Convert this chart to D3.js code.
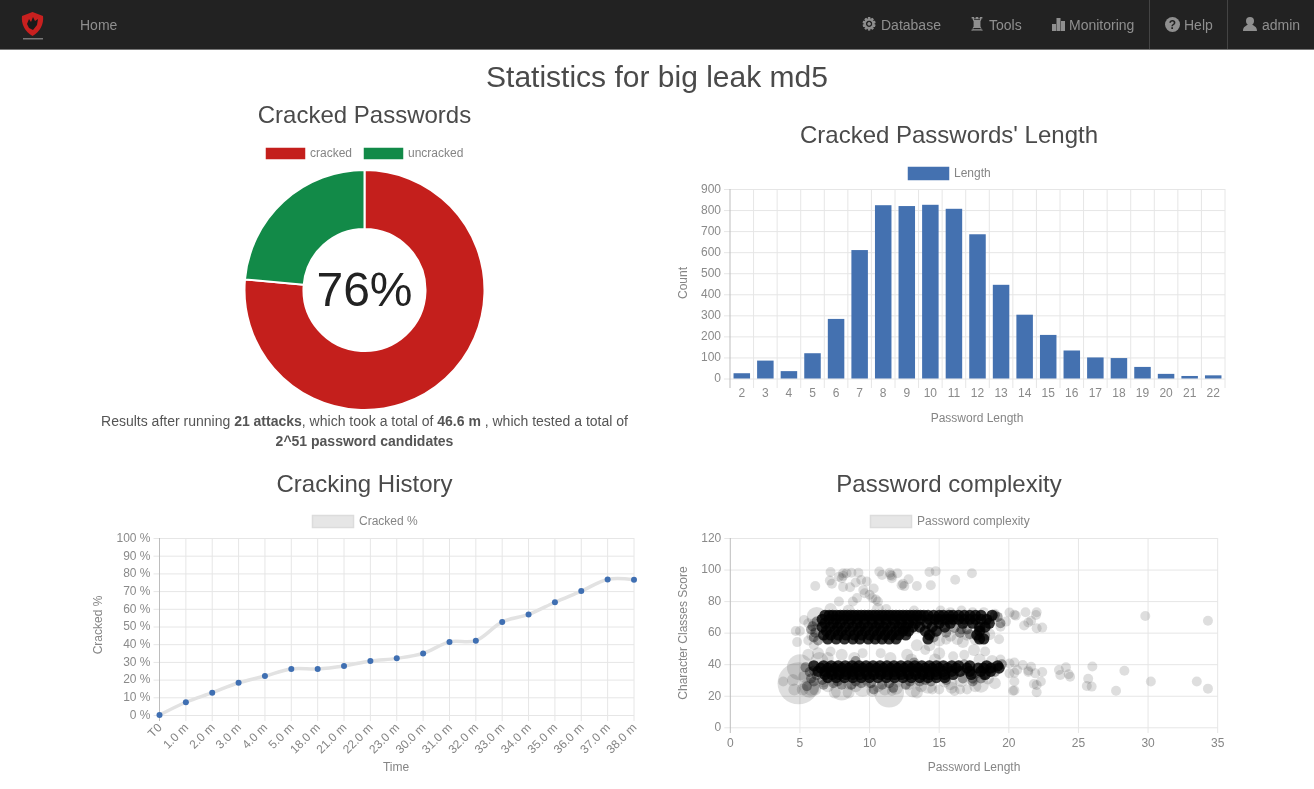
<!DOCTYPE html>
<html><head><meta charset="utf-8">
<script src="https://cdn.jsdelivr.net/npm/d3@7"></script>
<style>
html,body{margin:0;padding:0;background:#fff;overflow:hidden}
svg{display:block;font-family:"Liberation Sans",Arial,sans-serif;filter:blur(.45px)}
.t{fill:#858585;font-size:12px}
.h{fill:#4a4a4a;font-size:24px;text-anchor:middle}
.n{fill:#8f8f8f;font-size:14px}
.axis .domain{display:none}
.axis line{stroke:#e6e6e6}
.axis text{fill:#8a8a8a;font-size:12px;font-family:"Liberation Sans",Arial,sans-serif}
</style></head><body>
<svg id="c" width="1314" height="789"></svg>
<script>
const pieLabels=["cracked","uncracked"];
const pieValues=[76.4,23.6];
const pieText="76%";
const pieColors=["#c41f1c","#128a48"];

const lengthCats=[2,3,4,5,6,7,8,9,10,11,12,13,14,15,16,17,18,19,20,21,22];
const lengthCounts=[25,85,35,120,283,610,823,819,825,806,685,445,303,207,133,100,97,55,22,12,15];

const historyLabels=["T0","1.0 m","2.0 m","3.0 m","4.0 m","5.0 m","18.0 m","21.0 m","22.0 m","23.0 m","30.0 m","31.0 m","32.0 m","33.0 m","34.0 m","35.0 m","36.0 m","37.0 m","38.0 m"];
const historyValues=[0,7.2,12.6,18.2,22,26,26,27.7,30.5,32,34.8,41.3,42,52.6,56.8,63.7,70,76.6,76.4];

// bubbles: [password length, score, size]
const faintBubbles=[
[6.1,89.6,5],[7.2,98.5,5],[7.15,93,5],[7.3,91,5],[7.8,95.5,5],[8.1,97.7,5],[8,94.5,5],[8.1,96,5],[8.35,97.7,5],[8.7,98,5],[9.2,98,5],[8.6,88.8,5],[8.1,89,5],[9,91.8,5],[9.4,93.4,5],[9.8,92.4,5],[9.55,87,5],[9.65,85,5],[10,84,5],[10.3,88,5],[10.45,81,5],[10.2,82,5],[10.6,79.7,5],[8.8,79.7,5],[9.1,82,5],[7.8,79.7,5],[10.7,98.7,5],[10.9,96.6,5],[11.45,98,5],[11.5,96.5,5],[11.6,96,5],[11.6,94.5,5],[12,97.7,5],[12.3,90,5],[12.4,91,5],[12.5,89.5,5],[12.8,93.9,5],[13.4,89.6,5],[14.4,90,5],[14.3,98.5,5],[14.75,99,5],[16.15,93.5,5],[17.35,97.7,5],
[29.8,70.6,5],[34.3,67.6,5],[21.2,72.9,5],[22,72.9,5],[21.95,71.2,5],[20.4,71.4,5],[20.5,70.8,5],[20.05,72.7,5],[21.1,64.5,5],[21.4,66.4,5],[21.6,67.6,5],[22,62.8,5],[22.4,63.2,5],[19.3,55.8,5],[19.4,63.8,5],[19.8,67,5],
[26,38.5,5],[24.1,38,5],[23.6,36.3,5],[23.7,33.2,5],[24.3,33.6,5],[24.4,32,5],[28.3,35.9,5],[25.7,30.8,5],[25.6,26.2,5],[25.95,25.8,5],[27.7,23.2,5],[30.2,29,5],[33.5,29,5],[34.3,24.5,5],[22,22.2,5],[20.3,23.2,5],[20.4,23.4,5],[20.4,29,5],[21.8,27.4,5],[22.3,29,5],[22,26.8,5],[22.4,35,5],[21.9,34.2,5],[21.4,35,5],[21.4,36,5],[21.6,38.4,5],[21,39.5,5],[20.6,36.3,5],[20.4,34.6,5],[20.05,34.2,5],[20.05,40.5,5],
[4.9,27.9,21],[11.4,22,15],[5,38,13],[5.7,25,10],[8,24,11],[6.2,70,10],[7.4,70,7],[5.8,25,8],[3.8,29,5],[4.6,24,6],[6.4,42,9],[9.5,25,9],[13.1,24,8],[12.8,28,7],[14.2,27,9],[15,24,5],[16.1,23,5],[16.5,24,5],[17,24,5],[15.8,28,7],[16.6,30,7],[18,27,8],[19,28,6],[4.8,54,5],[4.7,61,5],[5,61,5],[5.6,66,5],[5.3,68,5],[5.9,58,6],[6,52,5],[6.2,62,6],[6,66,5],[5.6,55,5],[7.2,48,5],[8,46,6],[9.5,47,5],[10.8,47,5],[12.7,46,6],[13.4,52,6],[14,49,5],[15,47,6],[16,45,5],[16.8,46,5],[17.5,49,6],[18.3,48,5],[15,55,6],[15.5,55.5,5],[16.7,54,6],[17.6,56,6],[18.6,59,6],[7,26,6],[7.5,22,6],[8.5,22,6],[9,26,6],[10,29,7],[10.6,26,6],[13.7,26,6],[14.5,24,5],[15.4,29,6],[17.5,31,6],[19.4,43,5],[20.4,41,5],[5.3,32,6],[4.5,30,6],[5.2,24,6],[6.7,29,6],[7.5,30,7],[8.6,28,7],[9.8,30,6],[11.1,24,6],[11.9,25,7],[11.6,23,5],[12,29,6],
[7.2,75,6],[8.5,74,6],[10.6,75,6],[11.2,75,5],[13.2,74,5],[15.1,74,5],[15.8,73,5],[16.6,74,5],[17.4,73,5],[18.2,73,5],[19,72,5],[14.3,52,6],[15.8,58,6],[16.3,56,6],[17,58,5],[6.3,47,6],[5.6,46,6],[7,44,6],[8.9,44,6],[11.5,44,6],[13,43,6],[14.7,43,6],[17.9,43,6],[18.8,42,6],[6.1,24,6],[10.2,23,6],[13.4,22,6],[15.9,25,6],[17.6,26,6],[18.5,31,6]
];
const softBubbles=[
[5.8,62,5],[6,57,5],[6.2,67,5],[6.1,60,5],[5.9,64,5],[6.3,55,5],[14.6,57,5],[15.5,60,5],[16.5,60,5],[16.1,63,5],[17.2,59,5],[17,62,5],[18.6,68,5],[19.2,70,5],[19.4,66,5],[18.3,58,5],[14.4,59,5],[17.8,57,5],[18,62,5],[19,71,5],[16.6,62,5],
[5.7,35,5],[5.4,38,5],[5.5,26,5],[6,29,5],[6.7,27,5],[7.4,28,5],[8,27,5],[8.7,27,5],[9.4,28,5],[10.3,24,5],[10.9,27,5],[11.7,25,5],[12.6,27,5],[13.6,29,5],[14.4,29,5],[16.7,31,5],[17.4,29,5],[18,31,5],[19,35,5],[16.8,40,5],[19.5,40,5],[13.2,41,5],[9,42,5],[5.8,31,5],[6.2,33,5],[6,36,5],[6.6,30,5],[7.7,29,5],[9,29,5],[10.1,28,5],[11.4,28,5],[12.9,29,5],[14,30,5],[16.9,36,5],[17.6,34,5],[18.2,33,5],[18.9,38,5],[17.4,31,5],[15.5,30,5]
];
const denseRows=[
[71,[6.8,7.1,7.35,7.65,7.9,8.15,8.4,8.65,8.9,9.15,9.4,9.65,9.9,10.15,10.4,10.65,10.9,11.15,11.4,11.65,11.9,12.15,12.4,12.65,12.9,13.15,13.4,13.65,13.9,14.2,14.6,15,15.3,15.7,16,16.4,16.8,17.2,17.6,18,18.8]],
[68.5,[6.6,7.1,7.6,8.15,8.65,9.15,9.65,10.15,10.65,11.15,11.65,12.15,12.65,13.15,13.65,14.3,14.7,15,15.4,15.7,16,16.4,16.8,17.2,17.6,18,18.4]],
[66,[6.8,7.4,7.9,8.5,9.1,9.6,10.2,10.7,11.2,11.8,12.3,12.8,13.3,14.1,15,15.8,16.7,17.4,18.6]],
[63.5,[6.6,7.15,7.7,8.25,8.8,9.35,9.9,10.45,11,11.55,12.1,12.6,13.1,13.6,14.5,15.4,17.9,18.3]],
[61,[6.9,7.5,8,8.6,9.2,9.7,10.3,10.8,11.3,11.9,12.4,12.8,14,14.8,17.9]],
[58.5,[6.7,7.2,7.75,8.3,8.9,9.45,10,10.55,11.1,11.6,12.1,12.6,14.3,17.7]],
[56,[7,7.6,8.2,8.8,9.3,9.9,10.4,10.9,11.4,11.9,14.2,17.9,18.2]],
[39,[6,6.7,7.25,7.75,8.25,8.75,9.25,9.75,10.25,10.75,11.25,11.75,12.25,12.75,13.25,13.75,14.3,14.8,15.3,15.9,16.4,17.2,18.4,19.2]],
[37.5,[6.5,7,7.5,8,8.5,9,9.5,10,10.5,11,11.5,12,12.5,13,13.5,14,14.5,15,15.6,16.2,17,17.8,18.2,18.7,19.3]],
[35.5,[6.3,6.8,7.25,7.75,8.25,8.75,9.25,9.75,10.25,10.75,11.25,11.75,12.25,12.75,13.25,13.75,14.25,14.75,15.3,15.9,16.5,17.2,18,18.7]],
[33.5,[6.8,7.3,7.8,8.3,8.8,9.3,9.8,10.3,10.8,11.3,11.8,12.3,12.8,13.3,13.8,14.3,14.8,15.4,16,17.3,18.3]],
[31.5,[7,7.6,8.2,8.8,9.4,10,10.6,11.2,11.8,12.4,13,13.6,14.2,14.8,15.4]]
];
const tickLabelsPct=[0,10,20,30,40,50,60,70,80,90,100];

const denseBubbles=denseRows.flatMap(([s,xs])=>xs.map(v=>[v,s,5.6]));
const svg=d3.select("#c");
const FILL_F=0.13;

/* navbar */
svg.append("rect").attr("width",1314).attr("height",49).attr("fill","#222");
svg.append("rect").attr("y",49).attr("width",1314).attr("height",1).attr("fill","#777");
const nav=[["Home",80],["Database",881],["Tools",989],["Monitoring",1069],["Help",1184],["admin",1262]];
svg.selectAll(".n").data(nav).join("text").attr("class","n").attr("x",d=>d[1]).attr("y",30).text(d=>d[0]);
[1149.5,1227.5].forEach(x=>svg.append("line").attr("x1",x).attr("x2",x).attr("y1",0).attr("y2",49).attr("stroke","#444"));
const ic="#8f8f8f";
svg.append("text").attr("x",861.5).attr("y",30).attr("font-family","DejaVu Sans").attr("font-size",17).attr("fill",ic).attr("stroke",ic).attr("stroke-width",.9).text("\u2699");
svg.append("text").attr("x",968.5).attr("y",31).attr("font-family","DejaVu Sans").attr("font-size",19).attr("fill",ic).text("\u265C");
[[1052,24,4,7],[1056.5,18,4,13],[1061,21,4,10]].forEach(r=>svg.append("rect").attr("x",r[0]).attr("y",r[1]).attr("width",r[2]).attr("height",r[3]).attr("fill",ic));
svg.append("circle").attr("cx",1172.5).attr("cy",24.5).attr("r",7.5).attr("fill",ic);
svg.append("text").attr("x",1172.5).attr("y",29).attr("text-anchor","middle").attr("font-size",12).attr("font-weight","bold").attr("fill","#222").text("?");
svg.append("circle").attr("cx",1250).attr("cy",21).attr("r",4).attr("fill",ic);
svg.append("path").attr("d","M1243 31 C1243 26 1247 26 1248 24 L1252 24 C1253 26 1257 26 1257 31 Z").attr("fill",ic);
/* logo */
svg.append("path").attr("d","M32.5 12 L43 16 C44 24 40 32 32.5 36 C25 32 21 24 22 16 Z").attr("fill","#c8201f");
svg.append("path").attr("d","M27 24 L29 19 L31 22 L33 17 L35 21 L38 19 L37 25 L33 30 L29 28 Z").attr("fill","#1a1a1a");
svg.append("rect").attr("x",23).attr("y",38).attr("width",20).attr("height",1.5).attr("fill","#777");

/* titles */
svg.append("text").attr("x",657).attr("y",87).attr("text-anchor","middle").attr("font-size",30).attr("fill","#4a4a4a").text("Statistics for big leak md5");
[["Cracked Passwords",364.5,123],["Cracked Passwords' Length",949,143],["Cracking History",364.5,491.5],["Password complexity",949,491.5]]
 .forEach(d=>svg.append("text").attr("class","h").attr("x",d[1]).attr("y",d[2]).text(d[0]));

function legend(x,y,w,h,fill,stroke,label){
  svg.append("rect").attr("x",x+.5).attr("y",y+.5).attr("width",w).attr("height",h).attr("fill",fill).attr("stroke",stroke).attr("stroke-width",1.5);
  svg.append("text").attr("class","t").attr("x",x+w+6).attr("y",y+h/2+3.5).text(label);
}

/* donut */
const pieG=svg.append("g").attr("transform","translate(364.5,290)");
const arc=d3.arc().innerRadius(61).outerRadius(120);
pieG.selectAll("path").data(d3.pie().sort(null)(pieValues)).join("path")
  .attr("d",arc).attr("fill",(d,i)=>pieColors[i]).attr("stroke","#fff").attr("stroke-width",2);
pieG.append("text").attr("text-anchor","middle").attr("y",16).attr("font-size",48).attr("fill","#222").text(pieText);
legend(266,148,38,10,pieColors[0],pieColors[0],pieLabels[0]);
legend(364,148,38,10,pieColors[1],pieColors[1],pieLabels[1]);
const res=svg.append("text").attr("x",364.5).attr("y",426).attr("text-anchor","middle").attr("font-size",14).attr("fill","#555");
res.append("tspan").text("Results after running ");
res.append("tspan").attr("font-weight","bold").text("21 attacks");
res.append("tspan").text(", which took a total of ");
res.append("tspan").attr("font-weight","bold").text("46.6 m");
res.append("tspan").text(" , which tested a total of");
svg.append("text").attr("x",364.5).attr("y",446).attr("text-anchor","middle").attr("font-size",14).attr("font-weight","bold").attr("fill","#555").text("2^51 password candidates");

function yAxis(g,scale,left,right,ticks,fmt){
  const a=d3.axisLeft(scale).tickValues(ticks).tickFormat(fmt||(d=>d)).tickSizeOuter(0);
  const s=g.append("g").attr("class","axis").attr("transform",`translate(${left},0)`).call(a);
  s.selectAll("line").attr("x1",-6).attr("x2",right-left);
  s.selectAll("text").attr("x",-9).attr("y",-.5);
  s.selectAll(".tick").filter(d=>d===0).select("line").attr("stroke","#bdbdbd");
}
function rotLabel(t,x,y){svg.append("text").attr("class","t").attr("text-anchor","middle").attr("transform",`translate(${x},${y}) rotate(-90)`).text(t);}
function midLabel(t,x,y){svg.append("text").attr("class","t").attr("text-anchor","middle").attr("x",x).attr("y",y).text(t);}

/* bars */
{
  const g=svg.append("g");
  const x=d3.scaleBand().domain(lengthCats).range([730,1225]).padding(0);
  const y=d3.scaleLinear().domain([0,900]).range([378.5,189]);
  yAxis(g,y,730,1225,d3.range(0,901,100));
  const edges=g.append("g");
  edges.selectAll("line").data(lengthCats.concat(["end"])).join("line")
    .attr("x1",d=>d==="end"?1225:x(d)).attr("x2",d=>d==="end"?1225:x(d))
    .attr("y1",189).attr("y2",388).attr("stroke",(d,i)=>i===0?"#bdbdbd":"#e6e6e6");
  const xa=d3.axisBottom(x).tickSize(0);
  const xg=g.append("g").attr("class","axis").attr("transform","translate(0,378.5)").call(xa);
  xg.selectAll("text").attr("y",15).attr("dy","0.32em");
  g.selectAll("rect.b").data(lengthCats).join("rect").attr("class","b")
    .attr("x",d=>x(d)+x.bandwidth()*.15).attr("width",x.bandwidth()*.7)
    .attr("y",(d,i)=>y(lengthCounts[i])).attr("height",(d,i)=>y(0)-y(lengthCounts[i]))
    .attr("fill","#4471b0");
  legend(908,167,40,12,"#4471b0","#4471b0","Length");
  rotLabel("Count",687,283);
  midLabel("Password Length",977,422);
}

/* line */
{
  const g=svg.append("g");
  const x=d3.scalePoint().domain(historyLabels).range([159.5,634]);
  const y=d3.scaleLinear().domain([0,100]).range([715,538]);
  yAxis(g,y,159.5,634,tickLabelsPct,d=>d+" %");
  g.append("g").selectAll("line").data(historyLabels).join("line")
    .attr("x1",d=>x(d)).attr("x2",d=>x(d)).attr("y1",538).attr("y2",721)
    .attr("stroke",(d,i)=>i===0?"#bdbdbd":"#e6e6e6");
  const line=d3.line().x((d,i)=>x(historyLabels[i])).y(d=>y(d)).curve(d3.curveCatmullRom.alpha(.5));
  g.append("path").attr("d",line(historyValues)).attr("fill","none").attr("stroke","#e2e2e2").attr("stroke-width",3.5);
  g.selectAll("circle").data(historyValues).join("circle")
    .attr("cx",(d,i)=>x(historyLabels[i])).attr("cy",d=>y(d)).attr("r",3).attr("fill","#3f6fb2");
  svg.append("g").selectAll("text").data(historyLabels).join("text").attr("class","t")
    .attr("text-anchor","end")
    .attr("transform",d=>`translate(${x(d)-1},${724}) rotate(-45)`).attr("dy","0.5em").text(d=>d);
  legend(312,515,41,12,"#e6e6e6","#dcdcdc","Cracked %");
  rotLabel("Cracked %",102,625);
  midLabel("Time",396,771);
}

/* bubbles */
{
  const g=svg.append("g");
  const x=d3.scaleLinear().domain([0,35]).range([730.3,1217.7]);
  const y=d3.scaleLinear().domain([0,120]).range([727.3,538]);
  const r=d3.scaleLinear().domain([0,25]).range([0,25]);
  yAxis(g,y,730.3,1217.7,d3.range(0,121,20));
  const xt=d3.range(0,36,5);
  g.append("g").selectAll("line").data(xt).join("line")
    .attr("x1",d=>x(d)).attr("x2",d=>x(d)).attr("y1",538).attr("y2",733)
    .attr("stroke",(d,i)=>i===0?"#bdbdbd":"#e6e6e6");
  g.append("g").selectAll("text").data(xt).join("text").attr("class","t")
    .attr("x",d=>x(d)).attr("y",747).attr("text-anchor","middle").text(d=>d);
  const draw=(data,op)=>g.append("g").selectAll("circle").data(data).join("circle")
    .attr("cx",d=>x(d[0])).attr("cy",d=>y(d[1])).attr("r",d=>r(d[2])).attr("fill","#000").attr("fill-opacity",op);
  draw(faintBubbles,FILL_F);
  draw(softBubbles,.35);
  draw(denseBubbles,.8);
  legend(870,515,41,12,"#e6e6e6","#dcdcdc","Password complexity");
  rotLabel("Character Classes Score",687,633);
  midLabel("Password Length",974,771);
}
</script>
</body></html>
